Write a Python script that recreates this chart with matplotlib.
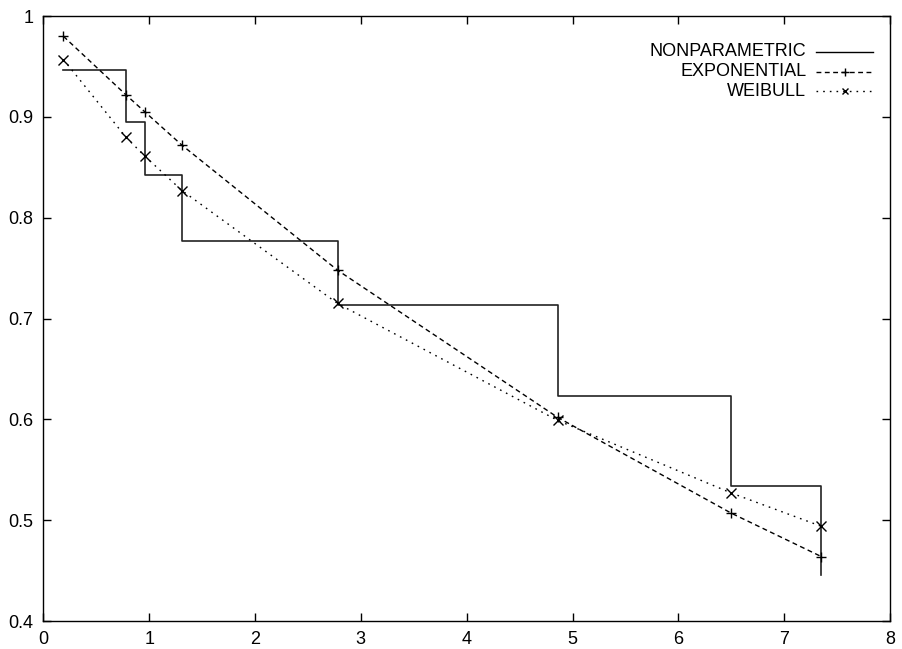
import matplotlib
matplotlib.use('Agg')
import matplotlib.pyplot as plt

plt.rcParams['font.family'] = ['Liberation Sans', 'DejaVu Sans']

# Kaplan-Meier style step estimate
km_times = [0.19, 0.78, 0.96, 1.31, 2.78, 4.86, 6.50, 7.35]
km_surv = [0.947, 0.895, 0.842, 0.777, 0.713, 0.623, 0.534, 0.446]

# fitted models evaluated at the event times
fit_times = [0.19, 0.78, 0.96, 1.31, 2.78, 4.86, 6.50, 7.35]
exp_surv = [0.980, 0.922, 0.905, 0.872, 0.748, 0.602, 0.507, 0.464]
weib_surv = [0.957, 0.880, 0.861, 0.827, 0.715, 0.599, 0.527, 0.494]

labels = ['NONPARAMETRIC', 'EXPONENTIAL', 'WEIBULL']

EXP_DASH = (3.5, 2.5)
WEIB_DASH = (1.2, 3.6)

fig = plt.figure(figsize=(9.03, 6.49), dpi=100)
ax = fig.add_axes([0.048, 0.0431, 0.9376, 0.932])

ax.step(km_times, km_surv, where='post', color='#222222', lw=1.2)
ax.plot(fit_times, exp_surv, color='black', lw=1.0, dashes=EXP_DASH,
        marker='+', ms=7, mew=1.0)
ax.plot(fit_times, weib_surv, color='black', lw=1.0, dashes=WEIB_DASH,
        marker='x', ms=6.5, mew=1.0)

ax.set_xlim(0, 8)
ax.set_ylim(0.4, 1.0)
ax.set_xticks(range(0, 9))
ax.set_yticks([0.4, 0.5, 0.6, 0.7, 0.8, 0.9, 1.0])
ax.set_yticklabels(['0.4', '0.5', '0.6', '0.7', '0.8', '0.9', '1'])
ax.tick_params(direction='in', length=6, width=1, top=True, right=True,
               labelsize=13, pad=7)
for s in ax.spines.values():
    s.set_linewidth(1.0)

# gnuplot-like key, text right aligned
styles = [(None, None, 0), (EXP_DASH, '+', 5.5), (WEIB_DASH, 'x', 5)]
for i, (lab, (dash, mk, ms)) in enumerate(zip(labels, styles)):
    yk = 0.941 - i * 0.0325
    ax.text(0.901, yk, lab, transform=ax.transAxes, ha='right', va='center',
            fontsize=13)
    kw = dict(dashes=dash) if dash else dict(ls='-')
    ax.plot([0.913, 0.980], [yk, yk], transform=ax.transAxes, color='black',
            lw=1.0, clip_on=False, **kw)
    if mk:
        ax.plot([0.9465], [yk], transform=ax.transAxes, color='black',
                marker=mk, ms=ms, mew=1.0, ls='none')

fig.savefig('out.png', dpi=100)
